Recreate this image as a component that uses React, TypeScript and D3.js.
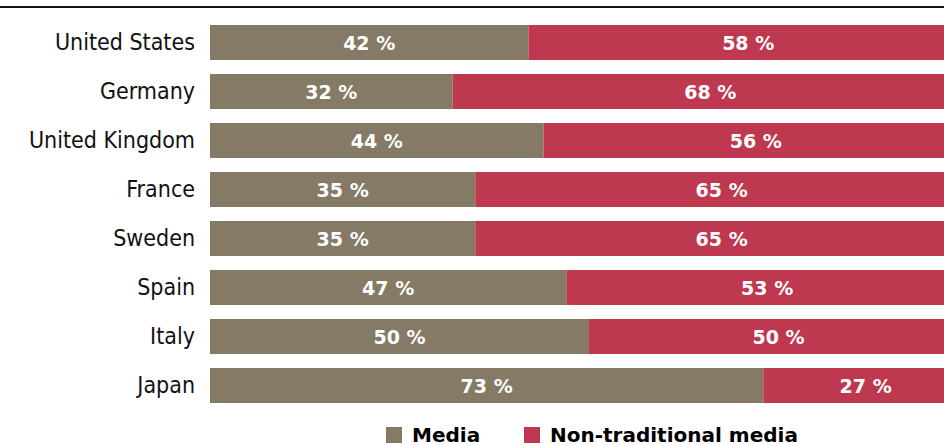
import React, { useEffect, useRef } from "react";
import * as d3 from "d3";

const countries = [
  "United States",
  "Germany",
  "United Kingdom",
  "France",
  "Sweden",
  "Spain",
  "Italy",
  "Japan",
];
const media = [42, 32, 44, 35, 35, 47, 50, 73];
const nonTraditional = [58, 68, 56, 65, 65, 53, 50, 27];
const seriesNames = ["Media", "Non-traditional media"];
const colors = ["#857a66", "#be3850"];

const App: React.FC = () => {
  const svgRef = useRef<SVGSVGElement | null>(null);

  useEffect(() => {
    const svg = d3.select(svgRef.current);
    svg.selectAll("*").remove();

    const width = 944;
    const labelFont = "'DejaVu Sans Condensed', 'DejaVu Sans', sans-serif";
    const boldFont = "'DejaVu Sans', sans-serif";

    // the bars run past the right edge of the picture
    const x = d3.scaleLinear().domain([0, 100]).range([210, 968]);
    const y = d3
      .scaleBand()
      .domain(countries)
      .range([25, 403])
      .paddingInner(14 / 49)
      .paddingOuter(0);

    const data = countries.map((c, i) => ({
      country: c,
      values: [media[i], nonTraditional[i]],
    }));

    svg
      .append("line")
      .attr("x1", 0)
      .attr("x2", width)
      .attr("y1", 7)
      .attr("y2", 7)
      .attr("stroke", "#111")
      .attr("stroke-width", 2);

    const rows = svg
      .selectAll(".row")
      .data(data)
      .enter()
      .append("g")
      .attr("class", "row")
      .attr("transform", (d) => `translate(0, ${y(d.country)})`);

    rows.each(function (d) {
      const g = d3.select(this);
      const mid = y.bandwidth() / 2;
      let start = 0;
      d.values.forEach((v, i) => {
        g.append("rect")
          .attr("x", x(start))
          .attr("width", x(start + v) - x(start))
          .attr("y", 0)
          .attr("height", y.bandwidth())
          .attr("fill", colors[i]);
        g.append("text")
          .attr("x", (x(start) + x(start + v)) / 2)
          .attr("y", mid + 7)
          .attr("text-anchor", "middle")
          .attr("fill", "#fff")
          .style("font-family", boldFont)
          .style("font-weight", "bold")
          .style("font-size", "19px")
          .text(`${v} %`);
        start += v;
      });
      g.append("text")
        .attr("x", 195)
        .attr("y", mid + 7.5)
        .attr("text-anchor", "end")
        .attr("fill", "#111")
        .style("font-family", labelFont)
        .style("font-size", "23px")
        .text(d.country);
    });

    // legend
    const legendX = [386, 524];
    const legend = svg
      .selectAll(".legend")
      .data(seriesNames)
      .enter()
      .append("g")
      .attr("class", "legend")
      .attr("transform", (d, i) => `translate(${legendX[i]}, 427)`);
    legend
      .append("rect")
      .attr("width", 16)
      .attr("height", 16)
      .attr("fill", (d, i) => colors[i]);
    legend
      .append("text")
      .attr("x", 26)
      .attr("y", 15)
      .attr("fill", "#000")
      .style("font-family", boldFont)
      .style("font-weight", "bold")
      .style("font-size", "20px")
      .text((d) => d);
  }, []);

  return (
    <svg
      ref={svgRef}
      width={944}
      height={445}
      style={{ position: "absolute", left: 0, top: 0, background: "#fff" }}
    ></svg>
  );
};

export default App;
